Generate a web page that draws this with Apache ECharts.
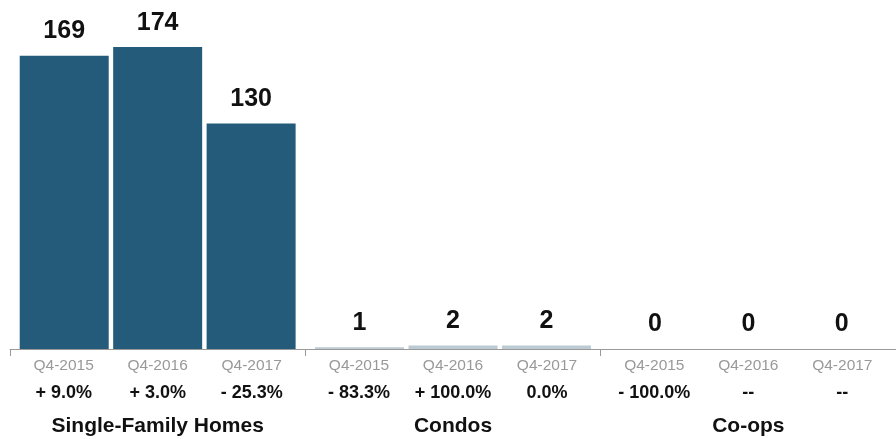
<!DOCTYPE html>
<html>
<head>
<meta charset="utf-8">
<script src="https://cdn.jsdelivr.net/npm/echarts@6/dist/echarts.min.js"></script>
<style>
  html, body { margin: 0; padding: 0; background: #fff; }
  #chart { width: 896px; height: 439px; }
</style>
</head>
<body>
<div id="chart"></div>
<script>
// data
var groups = ['Single-Family Homes', 'Condos', 'Co-ops'];
var quarters = ['Q4-2015', 'Q4-2016', 'Q4-2017'];
var q2015 = [169, 1, 0];
var q2016 = [174, 2, 0];
var q2017 = [130, 2, 0];
var sfhChange = ['+ 9.0%', '+ 3.0%', '- 25.3%'];
var condoChange = ['- 83.3%', '+ 100.0%', '0.0%'];
var coopChange = ['- 100.0%', '--', '--'];

var changes = [sfhChange, condoChange, coopChange];
var groupColors = ['#245b7b', '#bccbd3', '#bccbd3'];
var font = '"Liberation Sans", Arial, Helvetica, sans-serif';

var chart = echarts.init(document.getElementById('chart'));

function makeSeries(name, values) {
  return {
    name: name,
    type: 'bar',
    barWidth: 89,
    barGap: '5%',
    data: values.map(function (v, i) {
      return { value: v, itemStyle: { color: groupColors[i] } };
    }),
    label: {
      show: true,
      position: 'top',
      distance: 12,
      color: '#111',
      fontFamily: font,
      fontWeight: 'bold',
      fontSize: 25
    }
  };
}

chart.setOption({
  animation: false,
  grid: { left: 10, right: -8, top: 2, bottom: 90 },
  xAxis: {
    type: 'category',
    data: groups,
    axisLine: { lineStyle: { color: '#999', width: 1 } },
    axisTick: { show: true, length: 7, lineStyle: { color: '#999' } },
    axisLabel: {
      interval: 0,
      margin: 6,
      fontFamily: font,
      formatter: function (value, idx) {
        var row1 = quarters.map(function (q) { return '{q|' + q + '}'; }).join('');
        var row2 = changes[idx].map(function (c) { return '{p|' + c + '}'; }).join('');
        return row1 + '\n' + row2 + '\n{g|' + value + '}';
      },
      rich: {
        q: { width: 94, align: 'center', color: '#999', fontSize: 15.5, lineHeight: 21, fontFamily: font },
        p: { width: 94, align: 'center', color: '#111', fontSize: 18, fontWeight: 'bold', lineHeight: 34, fontFamily: font },
        g: { align: 'center', color: '#111', fontSize: 21, fontWeight: 'bold', lineHeight: 32, fontFamily: font }
      }
    }
  },
  yAxis: { type: 'value', min: 0, max: 200, show: false },
  series: [
    makeSeries(quarters[0], q2015),
    makeSeries(quarters[1], q2016),
    makeSeries(quarters[2], q2017)
  ]
});
</script>
</body>
</html>
